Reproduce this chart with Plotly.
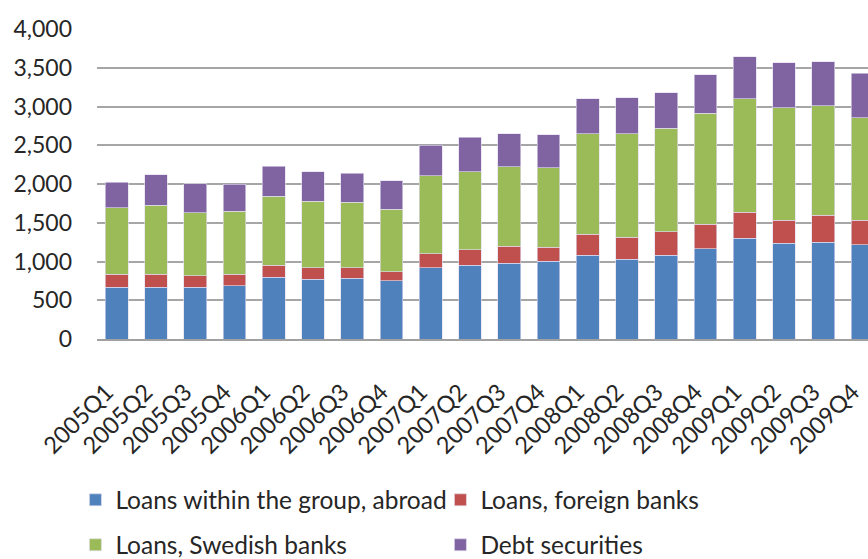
import plotly.graph_objects as go

quarters = ["2005Q1", "2005Q2", "2005Q3", "2005Q4", "2006Q1", "2006Q2", "2006Q3", "2006Q4",
            "2007Q1", "2007Q2", "2007Q3", "2007Q4", "2008Q1", "2008Q2", "2008Q3", "2008Q4",
            "2009Q1", "2009Q2", "2009Q3", "2009Q4"]

loans_group_abroad = [666, 666, 666, 687, 799, 769, 786, 752, 919, 950,
                      980, 1001, 1078, 1031, 1078, 1164, 1298, 1233, 1250, 1216]
loans_foreign_banks = [168, 168, 150, 147, 151, 150, 133, 116, 181, 201,
                       219, 181, 271, 284, 305, 314, 335, 297, 344, 314]
loans_swedish_banks = [859, 893, 812, 812, 893, 860, 843, 808, 1005, 1006,
                       1022, 1026, 1302, 1336, 1337, 1435, 1465, 1452, 1418, 1323]
debt_securities = [331, 395, 378, 352, 383, 378, 378, 365, 396, 447,
                   430, 426, 447, 464, 459, 498, 541, 580, 567, 576]

y_ticks = [0, 500, 1000, 1500, 2000, 2500, 3000, 3500, 4000]

FONT = "Lato"
TXT = "#262626"

series = [
    ("Loans within the group, abroad", loans_group_abroad, "#4F81BD", "legend"),
    ("Loans, foreign banks", loans_foreign_banks, "#C0504D", "legend"),
    ("Loans, Swedish banks", loans_swedish_banks, "#9BBB59", "legend2"),
    ("Debt securities", debt_securities, "#8064A2", "legend2"),
]

fig = go.Figure()
for name, vals, col, lg in series:
    fig.add_trace(go.Bar(
        x=quarters, y=vals, name=name, legend=lg,
        marker=dict(color=col, line=dict(color="rgba(225,220,240,0.8)", width=0.8)),
    ))

legend_common = dict(
    orientation="h", xanchor="left", yanchor="middle",
    font=dict(family=FONT, size=24.5, color=TXT),
    entrywidth=320, entrywidthmode="pixels",
    bgcolor="rgba(0,0,0,0)", traceorder="normal",
    itemclick=False,
)

fig.update_layout(
    width=868, height=559,
    margin=dict(l=97, r=0, t=29, b=220, autoexpand=False),
    barmode="stack", bargap=0.42,
    plot_bgcolor="white", paper_bgcolor="white",
    font=dict(family=FONT, size=23, color=TXT),
    showlegend=True,
    legend=dict(x=-0.028, y=-0.519, **legend_common),
    legend2=dict(x=-0.028, y=-0.664, **legend_common),
    xaxis=dict(
        type="category", range=[-0.5, 19.14], tickangle=-45,
        showline=True, linecolor="#A0A0A0", linewidth=2,
        showgrid=False, ticks="", automargin=False,
        ticklabelstandoff=28, ticklabelshift=-10,
        tickfont=dict(family=FONT, size=23.5, color=TXT),
    ),
    yaxis=dict(
        range=[0, 4000], tickvals=y_ticks, tickformat=",d",
        showgrid=True, gridcolor="#A6A6A6", gridwidth=1.5,
        zeroline=False, showline=False, ticks="", automargin=False,
        ticklabelstandoff=24,
        tickfont=dict(family=FONT, size=23, color=TXT),
    ),
)

fig.write_html("out.html")
